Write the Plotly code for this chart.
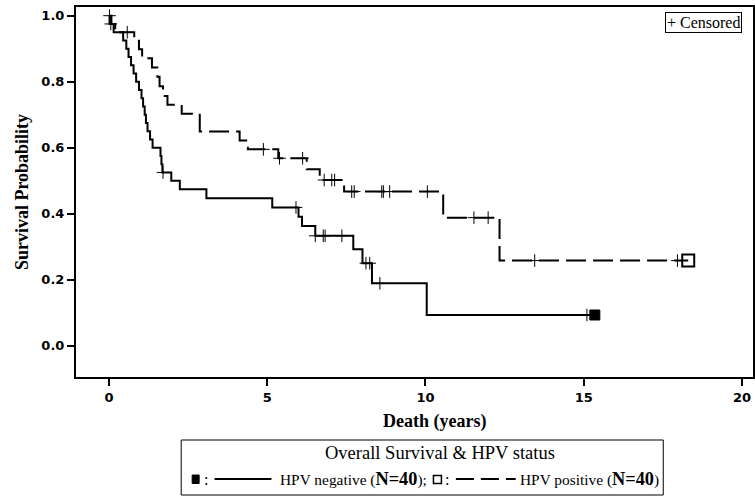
import numpy as np
import plotly.graph_objects as go

# ---------------- data ----------------
neg_times = [0, 0.08, 0.15, 0.45, 0.55, 0.62, 0.70, 0.78, 0.86, 0.95, 1.03, 1.08, 1.13, 1.17,
             1.22, 1.30, 1.38, 1.63, 1.66, 1.69, 1.97, 2.24, 3.08, 5.16, 5.99, 6.10, 6.52,
             7.72, 8.01, 8.31, 10.04, 15.35]
neg_surv = [1.0, 0.975, 0.95, 0.925, 0.90, 0.875, 0.85, 0.825, 0.80, 0.775, 0.75, 0.725, 0.70, 0.675,
            0.65, 0.625, 0.60, 0.575, 0.55, 0.525, 0.50, 0.474, 0.447, 0.419, 0.391, 0.363, 0.333,
            0.292, 0.25, 0.189, 0.093, 0.093]
neg_censor = [0.02, 1.71, 5.91, 6.52, 6.77, 6.83, 7.36, 8.12, 8.24, 8.56, 15.1]

pos_times = [0, 0.02, 0.20, 0.80, 0.95, 1.05, 1.36, 1.53, 1.60, 1.71, 1.85, 2.30, 2.87, 4.13,
             4.39, 5.35, 6.25, 6.66, 7.43, 10.56, 12.34, 18.3]
pos_surv = [1.0, 0.975, 0.95, 0.924, 0.898, 0.871, 0.843, 0.815, 0.786, 0.757, 0.730, 0.703, 0.649, 0.622,
            0.595, 0.568, 0.535, 0.502, 0.467, 0.388, 0.258, 0.258]
pos_censor = [0.06, 0.58, 4.88, 5.39, 6.12, 6.80, 7.04, 7.13, 7.67, 7.75, 8.62, 8.67, 8.87,
              10.06, 11.53, 11.98, 13.45, 17.96]

x_ticks = [0, 5, 10, 15, 20]
y_ticks = [0.0, 0.2, 0.4, 0.6, 0.8, 1.0]


def step_value(times, surv, t):
    idx = np.searchsorted(np.asarray(times), np.asarray(t), side="right") - 1
    return [surv[i] for i in idx]


fig = go.Figure()

fig.add_trace(go.Scatter(x=neg_times, y=neg_surv, mode="lines", line_shape="hv",
                         line=dict(color="black", width=2), showlegend=False))
fig.add_trace(go.Scatter(x=pos_times, y=pos_surv, mode="lines", line_shape="hv",
                         line=dict(color="black", width=2, dash="20px,7px"), showlegend=False))

# censor marks
fig.add_trace(go.Scatter(x=neg_censor, y=step_value(neg_times, neg_surv, neg_censor), mode="markers",
                         marker=dict(symbol="cross-thin", size=9, line=dict(color="black", width=1)),
                         showlegend=False))
fig.add_trace(go.Scatter(x=pos_censor, y=step_value(pos_times, pos_surv, pos_censor), mode="markers",
                         marker=dict(symbol="cross-thin", size=9, line=dict(color="black", width=1)),
                         showlegend=False))

# end markers
fig.add_trace(go.Scatter(x=[neg_times[-1]], y=[neg_surv[-1]], mode="markers",
                         marker=dict(symbol="square", size=10, color="black",
                                     line=dict(color="black", width=1)), showlegend=False))
fig.add_trace(go.Scatter(x=[pos_times[-1]], y=[pos_surv[-1]], mode="markers",
                         marker=dict(symbol="square-open", size=12, color="black",
                                     line=dict(color="black", width=2)), showlegend=False))

W, H = 755, 497
L, R, T, B = 76, 0, 7, 120
PW = W - L - R
PH = H - T - B


def px(x):
    return (x - L) / PW


def py(y):
    return (H - B - y) / PH


serif = "Liberation Serif"
sans = "DejaVu Sans"

shapes = []
annotations = []

# censored inset
annotations.append(dict(xref="paper", yref="paper", x=px(705), y=py(22.5), xanchor="center", yanchor="middle",
                        text="+ Censored", showarrow=False, font=dict(family=serif, size=16, color="black"),
                        bordercolor="black", borderwidth=1, borderpad=1, bgcolor="white"))

# x-axis title
annotations.append(dict(xref="paper", yref="paper", x=px(435.5), y=py(421.5), xanchor="center", yanchor="middle",
                        text="<b>Death (years)</b>", showarrow=False,
                        font=dict(family=serif, size=18, color="black")))

# legend box
shapes.append(dict(type="rect", xref="paper", yref="paper", x0=px(181.5), x1=px(665), y0=py(440), y1=py(495),
                   line=dict(color="black", width=1)))
annotations.append(dict(xref="paper", yref="paper", x=px(441.5), y=py(453), xanchor="center", yanchor="middle",
                        text="Overall Survival &amp; HPV status", showarrow=False,
                        font=dict(family=serif, size=18.5, color="black")))
ly = 479
# filled square
shapes.append(dict(type="rect", xref="paper", yref="paper", x0=px(192.5), x1=px(199.5), y0=py(483.5), y1=py(475),
                   fillcolor="black", line=dict(color="black", width=1)))
annotations.append(dict(xref="paper", yref="paper", x=px(202), y=py(ly), xanchor="left", yanchor="middle",
                        text=":", showarrow=False, font=dict(family=serif, size=16, color="black")))
shapes.append(dict(type="line", xref="paper", yref="paper", x0=px(215), x1=px(272), y0=py(ly), y1=py(ly),
                   line=dict(color="black", width=2)))
annotations.append(dict(xref="paper", yref="paper", x=px(279), y=py(ly), xanchor="left", yanchor="middle",
                        text="HPV negative (<b><span style='font-size:18.3px'>N=40</span></b>);", showarrow=False,
                        font=dict(family=serif, size=15.4, color="black")))
# open square
shapes.append(dict(type="rect", xref="paper", yref="paper", x0=px(434.5), x1=px(442.5), y0=py(483.5), y1=py(475.5),
                   line=dict(color="black", width=1.5)))
annotations.append(dict(xref="paper", yref="paper", x=px(444), y=py(ly), xanchor="left", yanchor="middle",
                        text=":", showarrow=False, font=dict(family=serif, size=16, color="black")))
shapes.append(dict(type="line", xref="paper", yref="paper", x0=px(457), x1=px(517), y0=py(ly), y1=py(ly),
                   line=dict(color="black", width=2, dash="18px,7px")))
annotations.append(dict(xref="paper", yref="paper", x=px(519), y=py(ly), xanchor="left", yanchor="middle",
                        text="HPV positive (<b><span style='font-size:18.3px'>N=40</span></b>)", showarrow=False,
                        font=dict(family=serif, size=15.4, color="black")))

x0_px, x_per = 109, 31.75
y0_px, y_per = 345.7, 330.0
xr = [(L - x0_px) / x_per, (W - R - x0_px) / x_per]
yr = [-((H - B) - y0_px) / y_per, (y0_px - T) / y_per]

fig.update_layout(
    width=W, height=H,
    margin=dict(l=L, r=R, t=T, b=B),
    paper_bgcolor="white", plot_bgcolor="white",
    shapes=shapes, annotations=annotations,
    showlegend=False,
    xaxis=dict(range=xr, tickvals=x_ticks, ticktext=[str(v) for v in x_ticks],
               showgrid=False, zeroline=False, showline=True, linecolor="black", linewidth=2, mirror=True,
               ticks="outside", ticklen=7, tickwidth=1.5, tickcolor="black",
               tickfont=dict(family=sans, size=13, color="black", weight="bold")),
    yaxis=dict(range=yr, tickvals=y_ticks, ticktext=[f"{v:.1f}" for v in y_ticks],
               showgrid=False, zeroline=False, showline=True, linecolor="black", linewidth=2, mirror=True,
               ticks="outside", ticklen=7, tickwidth=1.5, tickcolor="black",
               tickfont=dict(family=sans, size=13, color="black", weight="bold"),
               title=dict(text="<b>Survival Probability</b>", font=dict(family=serif, size=18, color="black"),
                          standoff=8)),
)

fig.write_html("out.html", config={"displayModeBar": False},
               post_script="document.body.style.margin='0px';document.body.style.overflow='hidden';")
